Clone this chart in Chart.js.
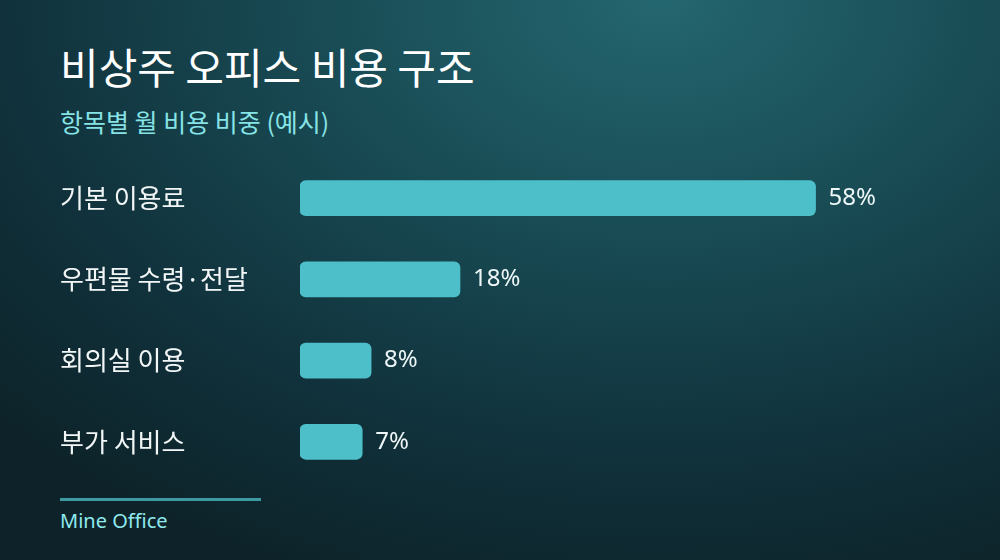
<!DOCTYPE html>
<html>
<head>
    <meta charset="UTF-8">
    <title>비상주 오피스 비용 구조</title>
    <style>
        html, body {
            margin: 0;
            padding: 0;
        }
        body {
            width: 1000px;
            height: 560px;
            overflow: hidden;
            position: relative;
            font-family: "Noto Sans", "Noto Sans CJK KR", sans-serif;
            background: radial-gradient(ellipse 900px 620px at 66% 0%, #24666f 0%, #184a53 40%, #10303a 75%, #0d2329 100%);
        }
        #title {
            position: absolute;
            left: 60px;
            top: 41px;
            margin: 0;
            font-family: "Noto Sans CJK KR", "Noto Sans", sans-serif;
            font-size: 42px;
            font-weight: 400;
            color: #ffffff;
            line-height: 1.2;
        }
        #subtitle {
            position: absolute;
            left: 60px;
            top: 106px;
            margin: 0;
            font-family: "Noto Sans CJK KR", "Noto Sans", sans-serif;
            font-size: 25px;
            color: #86e3e6;
            line-height: 1.2;
        }
        #chartBox {
            position: absolute;
            left: 60px;
            top: 142px;
            width: 940px;
            height: 356px;
        }
        #footLine {
            position: absolute;
            left: 60px;
            top: 498px;
            width: 201px;
            height: 3px;
            background: #3d9aa1;
        }
        #source {
            position: absolute;
            left: 60px;
            top: 507px;
            font-size: 20px;
            color: #8fe9ec;
        }
    </style>
</head>
<body>
    <h1 id="title">비상주 오피스 비용 구조</h1>
    <p id="subtitle">항목별 월 비용 비중 (예시)</p>

    <div id="chartBox"><canvas id="costChart"></canvas></div>

    <div id="footLine"></div>
    <div id="source">Mine Office</div>

    <script src="https://cdn.jsdelivr.net/npm/chart.js"></script>
    <script>
        // chart data
        const categories = ['기본 이용료', '우편물 수령·전달', '회의실 이용', '부가 서비스'];
        const shares = [58, 18, 8, 7];

        // write the % value just right of each bar
        const valueLabels = {
            id: 'valueLabels',
            afterDatasetsDraw(chart) {
                const ctx = chart.ctx;
                const meta = chart.getDatasetMeta(0);
                ctx.save();
                ctx.font = '24px "Noto Sans", "Noto Sans CJK KR", sans-serif';
                ctx.fillStyle = '#eef7f7';
                ctx.textAlign = 'left';
                ctx.textBaseline = 'middle';
                meta.data.forEach((bar, i) => {
                    ctx.fillText(shares[i] + '%', bar.x + 13, bar.y);
                });
                ctx.restore();
            }
        };

        const ctx = document.getElementById('costChart').getContext('2d');
        new Chart(ctx, {
            type: 'bar',
            data: {
                labels: categories,
                datasets: [{
                    data: shares,
                    backgroundColor: '#4cbfc8',
                    borderWidth: 0,
                    borderRadius: 6,
                    borderSkipped: false,
                    barThickness: 35
                }]
            },
            options: {
                indexAxis: 'y',
                responsive: true,
                maintainAspectRatio: false,
                animation: false,
                layout: {
                    padding: { left: 0, right: 60, top: 0, bottom: 0 }
                },
                plugins: {
                    legend: { display: false },
                    tooltip: { enabled: false }
                },
                scales: {
                    x: {
                        display: false,
                        min: 0,
                        max: 72
                    },
                    y: {
                        grid: { display: false },
                        border: { display: false },
                        afterFit(scale) {
                            scale.width = 240;
                        },
                        ticks: {
                            crossAlign: 'far',
                            color: '#f2f6f6',
                            padding: 0,
                            font: {
                                family: '"Noto Sans CJK KR", "Noto Sans", sans-serif',
                                size: 26
                            }
                        }
                    }
                }
            },
            plugins: [valueLabels]
        });
    </script>
</body>
</html>
